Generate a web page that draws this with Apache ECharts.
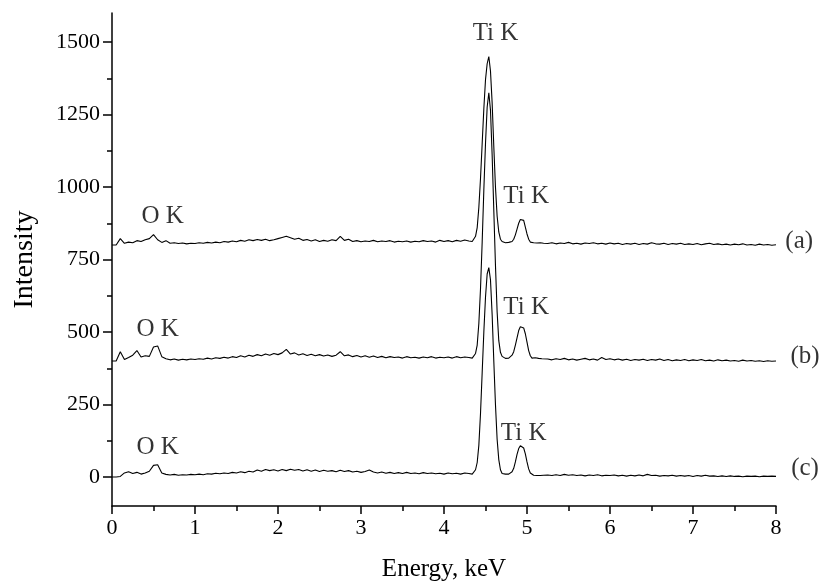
<!DOCTYPE html>
<html>
<head>
<meta charset="utf-8">
<script src="https://cdn.jsdelivr.net/npm/echarts@6/dist/echarts.min.js"></script>
<style>
html,body{margin:0;padding:0;background:#fff;}
#chart{width:823px;height:582px;}
</style>
</head>
<body>
<div id="chart"></div>
<script>
// Energy channels (keV)
var energies = [
0.00,0.05,0.10,0.15,0.20,0.25,0.30,0.35,0.40,0.45,0.50,0.55,0.60,0.65,0.70,0.75,0.80,0.85,0.90,0.95,
1.00,1.05,1.10,1.15,1.20,1.25,1.30,1.35,1.40,1.45,1.50,1.55,1.60,1.65,1.70,1.75,1.80,1.85,1.90,1.95,
2.00,2.05,2.10,2.15,2.20,2.25,2.30,2.35,2.40,2.45,2.50,2.55,2.60,2.65,2.70,2.75,2.80,2.85,2.90,2.95,
3.00,3.05,3.10,3.15,3.20,3.25,3.30,3.35,3.40,3.45,3.50,3.55,3.60,3.65,3.70,3.75,3.80,3.85,3.90,3.95,
4.00,4.05,4.10,4.15,4.20,4.25,4.30,
4.32,4.34,4.36,4.38,4.40,4.42,4.44,4.46,4.48,4.50,4.52,4.54,4.56,4.58,4.60,4.62,4.64,4.66,4.68,4.70,
4.72,4.74,4.76,4.78,4.80,4.82,4.84,4.86,4.88,4.90,4.92,4.94,4.96,4.98,5.00,5.02,5.04,5.06,5.08,5.10,
5.12,5.14,5.16,5.18,5.20,
5.25,5.30,5.35,5.40,5.45,5.50,5.55,5.60,5.65,5.70,5.75,5.80,5.85,5.90,5.95,
6.00,6.05,6.10,6.15,6.20,6.25,6.30,6.35,6.40,6.45,6.50,6.55,6.60,6.65,6.70,6.75,6.80,6.85,6.90,6.95,
7.00,7.05,7.10,7.15,7.20,7.25,7.30,7.35,7.40,7.45,7.50,7.55,7.60,7.65,7.70,7.75,7.80,7.85,7.90,7.95,
8.00
];

// Spectrum (a)
var spectrumA = [
800,800,822,806,810,808,815,812,818,822,836,818,809,815,806,808,805,807,804,806,
805,808,806,809,807,810,808,812,810,814,811,816,813,818,815,819,816,820,815,818,
822,826,830,825,820,823,816,819,814,818,812,816,813,818,815,830,816,820,812,815,
811,814,812,816,811,814,812,815,810,813,811,814,810,813,811,815,812,814,810,816,
812,815,811,816,813,817,814,
815,812,818,830,860,930,1030,1150,1270,1370,1425,1450,1400,1290,1140,1000,900,845,820,812,
810,808,812,809,815,812,820,835,855,875,888,894,885,862,838,820,810,806,808,804,
807,805,808,804,806,
805,808,804,807,805,809,804,806,803,807,805,808,804,806,803,
807,804,806,802,805,803,806,802,805,803,808,804,803,806,802,805,803,806,802,804,
802,805,801,804,806,802,804,801,803,800,803,801,804,800,802,799,803,800,802,799,
801
];

// Spectrum (b)
var spectrumB = [
400,400,432,405,412,420,436,414,418,416,448,452,415,408,404,407,403,406,404,407,
405,408,406,410,407,411,409,413,410,415,412,418,414,420,416,422,418,424,420,426,
422,428,440,424,428,421,425,419,423,418,422,417,421,416,420,432,418,421,415,419,
414,418,413,417,412,416,411,415,412,414,410,415,411,413,410,414,411,415,410,413,
411,414,410,415,411,414,412,
412,410,415,426,455,530,650,810,990,1150,1275,1325,1265,1110,920,730,570,470,430,416,
412,409,414,410,416,420,432,455,480,505,518,523,514,494,465,436,418,410,408,411,
406,409,405,408,406,
407,404,408,405,409,404,407,403,406,409,404,407,403,412,405,
408,404,407,403,406,402,405,403,406,402,405,403,407,402,405,401,404,402,405,401,
404,402,405,401,403,400,404,401,403,400,402,399,403,400,402,399,401,398,401,399,
400
];

// Spectrum (c)
var spectrumC = [
0,0,2,14,18,12,16,10,14,20,40,42,14,9,7,9,6,8,7,9,
8,10,8,11,10,13,11,14,12,16,14,18,15,20,17,24,20,26,22,25,
21,26,22,27,23,26,21,25,20,24,19,23,20,22,18,23,19,22,17,20,
16,19,24,17,14,17,13,16,12,15,12,16,12,14,11,15,12,14,11,13,
10,14,11,13,10,14,12,
12,10,15,25,50,110,220,360,500,620,700,722,680,560,400,250,130,60,25,12,
8,10,7,10,12,18,30,52,78,98,108,110,100,80,52,28,14,8,6,8,
5,7,5,8,6,
7,5,8,5,9,6,8,5,7,4,7,5,8,4,6,
5,7,4,6,3,6,4,7,4,9,5,6,3,5,4,6,3,5,3,5,
2,5,3,6,3,4,2,4,2,4,2,3,1,3,2,3,1,3,2,3,
2
];

// Axis ticks
var yMajorTicks = [0, 250, 500, 750, 1000, 1250, 1500];
var yMinorTicks = [125, 375, 625, 875, 1125, 1375];

// Annotations (data coordinates)
var annoText = ['Ti K', 'Ti K', 'Ti K', 'Ti K', 'O K', 'O K', 'O K', '(a)', '(b)', '(c)'];
var annoX    = [4.62, 4.99, 4.99, 4.96, 0.61, 0.55, 0.55, 8.28, 8.35, 8.35];
var annoY    = [1531, 967, 585, 151, 898, 509, 103, 812, 416, 28];

var FONT = '"Liberation Serif", "Times New Roman", serif';

function pairs(vals) {
  return energies.map(function (e, i) { return [e, vals[i]]; });
}

function lineSeries(vals) {
  return {
    type: 'line',
    data: pairs(vals),
    showSymbol: false,
    symbol: 'none',
    silent: true,
    lineStyle: { color: '#000', width: 1.1 },
    xAxisIndex: 0,
    yAxisIndex: 0,
    z: 2
  };
}

var chart = echarts.init(document.getElementById('chart'), null, { renderer: 'canvas' });

chart.setOption({
  animation: false,
  backgroundColor: '#fff',
  grid: { left: 112, right: 47, top: 13, bottom: 76, containLabel: false, outerBoundsMode: 'none' },
  xAxis: {
    type: 'value',
    min: 0, max: 8, interval: 1,
    name: 'Energy, keV',
    nameLocation: 'middle',
    nameGap: 51,
    nameTextStyle: { fontFamily: FONT, fontSize: 25, color: '#000' },
    axisLine: { show: true, onZero: false, lineStyle: { color: '#000', width: 1.5 } },
    axisTick: { show: true, inside: false, length: 8, lineStyle: { color: '#000', width: 1.5 } },
    minorTick: { show: true, splitNumber: 2, length: 5, lineStyle: { color: '#000', width: 1.5 } },
    axisLabel: { fontFamily: FONT, fontSize: 22, color: '#000', margin: 11 },
    splitLine: { show: false },
    minorSplitLine: { show: false }
  },
  yAxis: [
    {
      type: 'value',
      min: -100, max: 1600,
      position: 'left',
      name: 'Intensity',
      nameLocation: 'middle',
      nameGap: 73,
      nameRotate: 90,
      nameTextStyle: { fontFamily: FONT, fontSize: 28, color: '#000' },
      axisLine: { show: true, onZero: false, lineStyle: { color: '#000', width: 1.5 } },
      axisTick: { show: true, inside: false, length: 9, customValues: yMajorTicks, lineStyle: { color: '#000', width: 1.5 } },
      axisLabel: {
        fontFamily: FONT, fontSize: 22, color: '#000', margin: 12, customValues: yMajorTicks,
        formatter: function (v) { return String(v); }
      },
      splitLine: { show: false }
    },
    {
      type: 'value',
      min: -100, max: 1600,
      position: 'left',
      axisLine: { show: false },
      axisTick: { show: true, inside: false, length: 5, customValues: yMinorTicks, lineStyle: { color: '#000', width: 1.5 } },
      axisLabel: { show: false },
      splitLine: { show: false }
    }
  ],
  series: [
    lineSeries(spectrumA),
    lineSeries(spectrumB),
    lineSeries(spectrumC),
    {
      type: 'scatter',
      clip: false,
      silent: true,
      symbolSize: 0,
      xAxisIndex: 0,
      yAxisIndex: 0,
      data: annoText.map(function (t, i) { return { name: t, value: [annoX[i], annoY[i]] }; }),
      label: {
        show: true,
        position: 'inside',
        formatter: '{b}',
        fontFamily: FONT,
        fontSize: 25,
        color: '#000',
        align: 'center',
        verticalAlign: 'middle'
      },
      z: 5
    }
  ]
});
</script>
</body>
</html>
